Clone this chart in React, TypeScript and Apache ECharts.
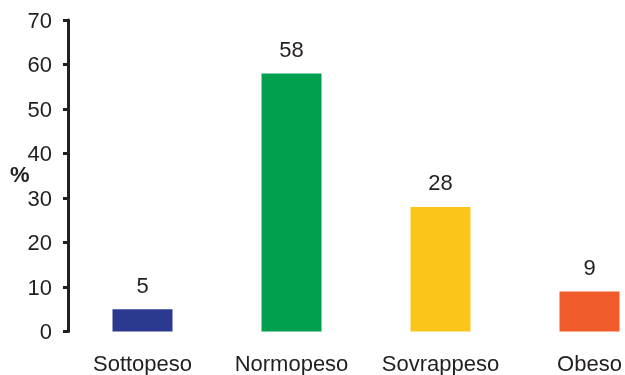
import React, { useEffect, useRef } from "react";
import * as echarts from "echarts";

const categories = ["Sottopeso", "Normopeso", "Sovrappeso", "Obeso"];
const values = [5, 58, 28, 9];
const colors = ["#2B3990", "#00A04F", "#FBC51A", "#F15A29"];
const yTicks = [0, 10, 20, 30, 40, 50, 60, 70];

export default function App() {
  const ref = useRef<HTMLDivElement>(null);
  useEffect(() => {
    const chart = echarts.init(ref.current!, null, { renderer: "svg" });
    const font = "'Liberation Sans', Arial, sans-serif";
    chart.setOption({
      animation: false,
      grid: { left: 68, right: 0, top: 20, bottom: 43.5, containLabel: false },
      xAxis: {
        type: "category",
        data: categories,
        axisLine: { show: false },
        axisTick: { show: false },
        axisLabel: { color: "#231F20", fontSize: 22, fontFamily: font, margin: 21, interval: 0 },
      },
      yAxis: {
        type: "value",
        min: yTicks[0],
        max: yTicks[yTicks.length - 1],
        interval: 10,
        splitLine: { show: false },
        axisLine: { show: true, lineStyle: { color: "#231F20", width: 3 } },
        axisTick: { show: true, length: 5, lineStyle: { color: "#231F20", width: 3 } },
        axisLabel: { color: "#231F20", fontSize: 22, fontFamily: font, margin: 16 },
      },
      graphic: [
        {
          type: "text",
          left: 10,
          top: 163,
          style: { text: "%", fontSize: 22, fontWeight: "bold", fontFamily: font, fill: "#231F20" },
        },
      ],
      series: [
        {
          type: "bar",
          barWidth: 60,
          data: values.map((v, i) => ({ value: v, itemStyle: { color: colors[i] } })),
          label: {
            show: true,
            position: "top",
            distance: 13,
            color: "#231F20",
            fontSize: 22,
            fontFamily: font,
          },
        },
      ],
    });
    return () => chart.dispose();
  }, []);
  return <div ref={ref} style={{ width: 664, height: 375, position: "fixed", left: 0, top: 0 }} />;
}
